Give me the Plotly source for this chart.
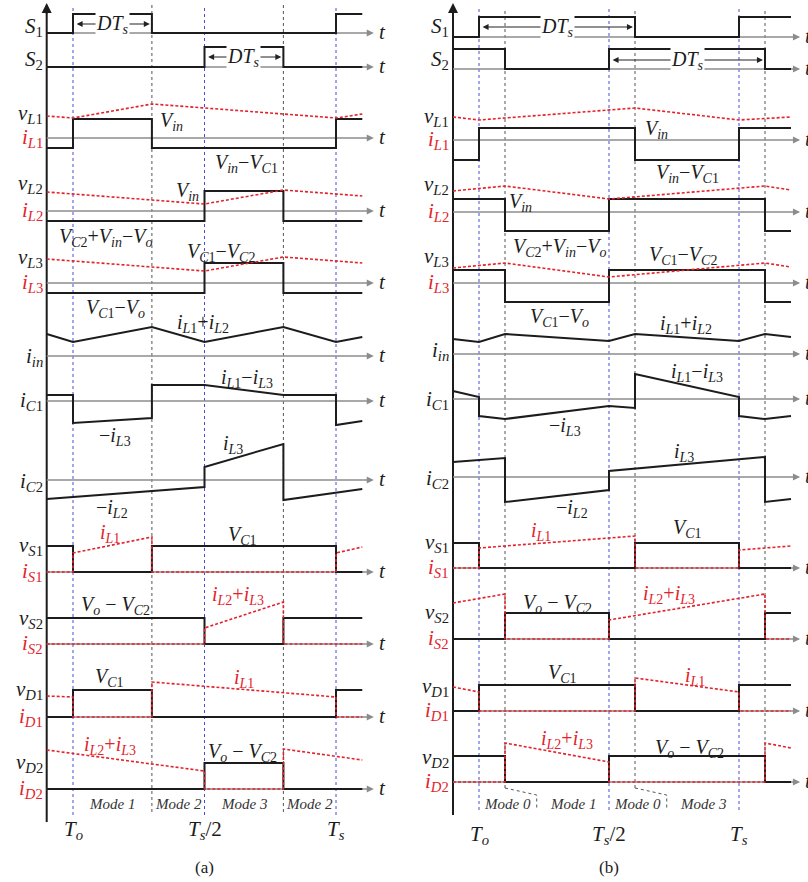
import plotly.graph_objects as go

W, H = 808, 882

# ===================== DATA (time in units of Ts, level in arbitrary units, + = up) =====================
# ---- panel (a) ----
a_S1 = ([-0.1, 0.0, 0.3, 1.0, 1.1], [0, 1.9, 0, 1.9, 1.9])
a_S2 = ([-0.1, 0.5, 0.8, 1.1], [0, 2.0, 0, 0])
a_vL1 = ([-0.1, 0.0, 0.3, 1.0, 1.1], [-1.0, 1.9, -1.0, 1.9, 1.9])
a_iL1 = ([-0.1, 0.0, 0.3, 1.0, 1.1], [2.2, 2.0, 3.4, 2.0, 2.4])
a_vL2 = ([-0.1, 0.5, 0.8, 1.1], [-1.0, 2.0, -1.0, -1.0])
a_iL2 = ([-0.1, 0.5, 0.8, 1.1], [1.9, 0.7, 2.1, 1.5])
a_vL3 = ([-0.1, 0.5, 0.8, 1.1], [-1.0, 2.0, -1.0, -1.0])
a_iL3 = ([-0.1, 0.5, 0.8, 1.1], [2.4, 1.2, 2.6, 2.0])
a_iin = ([-0.1, 0.0, 0.3, 0.5, 0.8, 1.0, 1.1], [2.2, 1.4, 2.9, 1.4, 2.9, 1.4, 1.9])
a_iC1 = ([-0.1, 0.0, 0.0, 0.3, 0.3, 0.5, 0.8, 1.0, 1.0, 1.1],
         [0.6, 0.6, -2.2, -1.7, 1.6, 1.6, 0.6, 0.6, -2.4, -2.0])
a_iC2 = ([-0.1, 0.5, 0.5, 0.8, 0.8, 1.1], [-1.9, -0.7, 1.3, 3.6, -2.0, -0.9])
a_vS1 = ([-0.1, 0.0, 0.3, 1.0, 1.1], [2.6, 0, 2.6, 0, 0])
a_iS1 = ([-0.1, 0.0, 0.0, 0.3, 0.3, 1.0, 1.0, 1.1], [0, 0, 1.9, 3.5, 0, 0, 1.9, 2.5])
a_vS2 = ([-0.1, 0.5, 0.8, 1.1], [2.6, 0, 2.6, 2.6])
a_iS2 = ([-0.1, 0.5, 0.5, 0.8, 0.8, 1.1], [0, 0, 1.6, 4.2, 0, 0])
a_vD1 = ([-0.1, 0.0, 0.3, 1.0, 1.1], [0, 2.7, 0, 2.7, 2.7])
a_iD1 = ([-0.1, 0.0, 0.0, 0.3, 0.3, 1.0, 1.0, 1.1], [2.1, 2.0, 0, 0, 3.5, 2.0, 0, 0])
a_vD2 = ([-0.1, 0.5, 0.8, 1.1], [0, 2.6, 0, 0])
a_iD2 = ([-0.1, 0.5, 0.5, 0.8, 0.8, 1.1], [3.9, 1.8, 0, 0, 4.0, 2.9])

# ---- panel (b) ----
b_S1 = ([-0.1, 0.0, 0.6, 1.0, 1.2], [0, 2.0, 0, 2.0, 2.0])
b_S2 = ([-0.1, 0.1, 0.5, 1.1, 1.2], [2.0, 0, 2.0, 0, 0])
b_vL1 = ([-0.1, 0.0, 0.6, 1.0, 1.2], [-2.0, 1.2, -2.0, 1.2, 1.2])
b_iL1 = ([-0.1, 0.0, 0.6, 1.0, 1.2], [2.3, 2.0, 3.2, 2.0, 2.3])
b_vL2 = ([-0.1, 0.1, 0.5, 1.1, 1.2], [1.3, -1.9, 1.3, -1.9, -1.9])
b_iL2 = ([-0.1, 0.1, 0.5, 1.1, 1.2], [2.1, 2.6, 1.3, 2.6, 2.2])
b_vL3 = ([-0.1, 0.1, 0.5, 1.1, 1.2], [1.3, -1.9, 1.3, -1.9, -1.9])
b_iL3 = ([-0.1, 0.1, 0.5, 1.1, 1.2], [1.5, 2.0, 0.6, 2.0, 1.6])
b_iin = ([-0.1, 0.0, 0.1, 0.5, 0.6, 1.0, 1.1, 1.2], [1.5, 1.2, 2.0, 1.3, 2.0, 1.3, 2.0, 1.7])
b_iC1 = ([-0.1, 0.0, 0.0, 0.1, 0.5, 0.6, 0.6, 1.0, 1.0, 1.1, 1.2],
         [0.8, 0.2, -1.7, -2.0, -0.7, -0.9, 2.5, 0.2, -1.7, -2.0, -1.7])
b_iC2 = ([-0.1, 0.1, 0.1, 0.5, 0.5, 1.1, 1.1, 1.2], [1.5, 1.9, -2.5, -1.3, 0.6, 2.0, -2.5, -2.2])
b_vS1 = ([-0.1, 0.0, 0.6, 1.0, 1.2], [2.5, 0, 2.5, 0, 0])
b_iS1 = ([-0.1, 0.0, 0.0, 0.6, 0.6, 1.0, 1.0, 1.2], [0, 0, 2.0, 3.2, 0, 0, 1.8, 2.2])
b_vS2 = ([-0.1, 0.1, 0.5, 1.1, 1.2], [0, 2.6, 0, 2.6, 2.6])
b_iS2 = ([-0.1, 0.1, 0.1, 0.5, 0.5, 1.1, 1.1, 1.2], [3.6, 4.5, 0, 0, 1.9, 4.5, 0, 0])
b_vD1 = ([-0.1, 0.0, 0.6, 1.0, 1.2], [0, 2.6, 0, 2.6, 2.6])
b_iD1 = ([-0.1, 0.0, 0.0, 0.6, 0.6, 1.0, 1.0, 1.2], [2.4, 1.9, 0, 0, 3.3, 1.9, 0, 0])
b_vD2 = ([-0.1, 0.1, 0.5, 1.1, 1.2], [2.6, 0, 2.6, 0, 0])
b_iD2 = ([-0.1, 0.1, 0.1, 0.5, 0.5, 1.1, 1.1, 1.2], [0, 0, 3.9, 2.0, 0, 0, 3.9, 3.4])

# mode boundaries and tick labels
a_blue_t = [0.0, 0.5, 1.0]
a_gray_t = [0.3, 0.8]
b_blue_t = [0.0, 0.5, 1.0]
b_gray_t = [0.1, 0.6, 1.1]
a_modes = [(0.15, "Mode 1"), (0.4, "Mode 2"), (0.65, "Mode 3"), (0.9, "Mode 2")]
b_modes = [(0.11, "Mode 0"), (0.36, "Mode 1"), (0.61, "Mode 0"), (0.86, "Mode 3")]
time_ticks = [(0.0, "<i>T</i><sub><i>o</i></sub>"), (0.5, "<i>T</i><sub><i>s</i></sub>/2"),
              (1.0, "<i>T</i><sub><i>s</i></sub>")]

# ===================== STYLE / LAYOUT =====================
FONT = "Liberation Serif"
BLACK = "#1c1c1c"
RED = "#e3232b"
GRAY = "#8c8c8c"
BLUE = "#4a4ad8"
DGRAY = "#555555"
SCALE = 10.0  # px per level unit
LAB = 21      # left label font size
TXT = 20      # in-plot label font size

def sym(main, sub):
    return f"<i>{main}</i><sub>{sub}</sub>"

S_1, S_2 = sym("S", "1"), sym("S", "2")
Vin = sym("V", "<i>in</i>")
VC1 = sym("V", "<i>C</i>1")
VC2 = sym("V", "<i>C</i>2")
Vo = sym("V", "<i>o</i>")
iL1 = sym("i", "<i>L</i>1")
iL2 = sym("i", "<i>L</i>2")
iL3 = sym("i", "<i>L</i>3")
M = "−"
DTs = "<i>DT</i><sub><i>s</i></sub>"

# rows: key, baseline px, black wave, red wave, black label, red label, black-label offset
rows_a = [
    ("S1", 33, a_S1, None, S_1, None, 0.6),
    ("S2", 67, a_S2, None, S_2, None, 0.7),
    ("L1", 138, a_vL1, a_iL1, sym("v", "<i>L</i>1"), iL1, 2.4),
    ("L2", 211, a_vL2, a_iL2, sym("v", "<i>L</i>2"), iL2, 2.7),
    ("L3", 283, a_vL3, a_iL3, sym("v", "<i>L</i>3"), iL3, 2.5),
    ("in", 356, a_iin, None, sym("i", "<i>in</i>"), None, -0.1),
    ("C1", 401, a_iC1, None, sym("i", "<i>C</i>1"), None, 0.0),
    ("C2", 480, a_iC2, None, sym("i", "<i>C</i>2"), None, -0.2),
    ("S1v", 572, a_vS1, a_iS1, sym("v", "<i>S</i>1"), sym("i", "<i>S</i>1"), 2.6),
    ("S2v", 644, a_vS2, a_iS2, sym("v", "<i>S</i>2"), sym("i", "<i>S</i>2"), 2.5),
    ("D1", 717, a_vD1, a_iD1, sym("v", "<i>D</i>1"), sym("i", "<i>D</i>1"), 2.7),
    ("D2", 789, a_vD2, a_iD2, sym("v", "<i>D</i>2"), sym("i", "<i>D</i>2"), 2.6),
]
rows_b = [
    ("S1", 37, b_S1, None, S_1, None, 1.0),
    ("S2", 69, b_S2, None, S_2, None, 0.9),
    ("L1", 140, b_vL1, b_iL1, sym("v", "<i>L</i>1"), iL1, 2.3),
    ("L2", 212, b_vL2, b_iL2, sym("v", "<i>L</i>2"), iL2, 2.7),
    ("L3", 283, b_vL3, b_iL3, sym("v", "<i>L</i>3"), iL3, 2.6),
    ("in", 354, b_iin, None, sym("i", "<i>in</i>"), None, 0.3),
    ("C1", 399, b_iC1, None, sym("i", "<i>C</i>1"), None, -0.1),
    ("C2", 477, b_iC2, None, sym("i", "<i>C</i>2"), None, -0.2),
    ("S1v", 568, b_vS1, b_iS1, sym("v", "<i>S</i>1"), sym("i", "<i>S</i>1"), 2.5),
    ("S2v", 639, b_vS2, b_iS2, sym("v", "<i>S</i>2"), sym("i", "<i>S</i>2"), 2.6),
    ("D1", 711, b_vD1, b_iD1, sym("v", "<i>D</i>1"), sym("i", "<i>D</i>1"), 2.4),
    ("D2", 782, b_vD2, b_iD2, sym("v", "<i>D</i>2"), sym("i", "<i>D</i>2"), 2.4),
]
step_keys = {"S1", "S2", "L1", "L2", "L3", "S1v", "S2v", "D1", "D2"}

labels_a = [
    ("L1", 0.323, 1.7, Vin, BLACK, "left"),
    ("L1", 0.66, -2.5, Vin + M + VC1, BLACK, "center"),
    ("L2", 0.434, 2.0, Vin, BLACK, "center"),
    ("L2", 0.125, -2.6, VC2 + "+" + Vin + M + Vo, BLACK, "center"),
    ("L3", 0.563, 3.1, VC1 + M + VC2, BLACK, "center"),
    ("L3", 0.16, -2.5, VC1 + M + Vo, BLACK, "center"),
    ("in", 0.494, 3.3, iL1 + "+" + iL2, BLACK, "center"),
    ("C1", 0.66, 2.3, iL1 + M + iL3, BLACK, "center"),
    ("C1", 0.16, -3.5, M + iL3, BLACK, "center"),
    ("C2", 0.61, 3.6, iL3, BLACK, "center"),
    ("C2", 0.148, -2.8, M + iL2, BLACK, "center"),
    ("S1v", 0.14, 3.9, iL1, RED, "center"),
    ("S1v", 0.646, 3.7, VC1, BLACK, "center"),
    ("S2v", 0.163, 3.9, Vo + " " + M + " " + VC2, BLACK, "center"),
    ("S2v", 0.627, 4.9, iL2 + "+" + iL3, RED, "center"),
    ("D1", 0.14, 4.0, VC1, BLACK, "center"),
    ("D1", 0.65, 3.9, iL1, RED, "center"),
    ("D2", 0.14, 4.4, iL2 + "+" + iL3, RED, "center"),
    ("D2", 0.646, 3.7, Vo + " " + M + " " + VC2, BLACK, "center"),
]
labels_b = [
    ("L1", 0.63, 1.1, Vin, BLACK, "left"),
    ("L1", 0.80, -3.3, Vin + M + VC1, BLACK, "center"),
    ("L2", 0.108, 1.0, Vin, BLACK, "left"),
    ("L2", 0.31, -3.5, VC2 + "+" + Vin + M + Vo, BLACK, "center"),
    ("L3", 0.785, 2.8, VC1 + M + VC2, BLACK, "center"),
    ("L3", 0.308, -3.4, VC1 + M + Vo, BLACK, "center"),
    ("in", 0.796, 3.0, iL1 + "+" + iL2, BLACK, "center"),
    ("C1", 0.838, 2.7, iL1 + M + iL3, BLACK, "center"),
    ("C1", 0.33, -2.7, M + iL3, BLACK, "center"),
    ("C2", 0.79, 2.5, iL3, BLACK, "center"),
    ("C2", 0.358, -3.1, M + iL2, BLACK, "center"),
    ("S1v", 0.24, 3.7, iL1, RED, "center"),
    ("S1v", 0.80, 4.0, VC1, BLACK, "center"),
    ("S2v", 0.30, 3.6, Vo + " " + M + " " + VC2, BLACK, "center"),
    ("S2v", 0.73, 4.5, iL2 + "+" + iL3, RED, "center"),
    ("D1", 0.32, 3.8, VC1, BLACK, "center"),
    ("D1", 0.83, 3.5, iL1, RED, "center"),
    ("D2", 0.34, 4.3, iL2 + "+" + iL3, RED, "center"),
    ("D2", 0.81, 3.4, Vo + " " + M + " " + VC2, BLACK, "center"),
]

panels = [
    dict(name="a", xid="x", origin=73, tspan=263, rows=rows_a, labels=labels_a,
         tip=1.144, axis_top=3, axis_bot=822, dot_top=5, dot_bot=815,
         blue=a_blue_t, gray=a_gray_t, modes=a_modes, mode_v=-1.5, tick_v=-4.1, cap_v=-7.8,
         dts=[("S1", 0.0, 0.3, 0.9), ("S2", 0.5, 0.8, 1.0)]),
    dict(name="b", xid="x2", origin=479, tspan=260, rows=rows_b, labels=labels_b,
         tip=1.235, axis_top=3, axis_bot=815, dot_top=8, dot_bot=810,
         blue=b_blue_t, gray=b_gray_t, modes=b_modes, mode_v=-2.2, tick_v=-5.3, cap_v=-8.5,
         dts=[("S1", 0.0, 0.6, 1.0), ("S2", 0.5, 1.1, 0.9)]),
]

fig = go.Figure()
layout = dict(width=W, height=H, margin=dict(l=0, r=0, t=0, b=0),
              paper_bgcolor="white", plot_bgcolor="rgba(0,0,0,0)", showlegend=False)
annotations, shapes = [], []
black_traces, red_traces, gray_traces = [], [], []

def ytok(n):
    return "yaxis" if n == 1 else f"yaxis{n}"

def yid(n):
    return "y" if n == 1 else f"y{n}"

n = 0
for p in panels:
    xid = p["xid"]
    xkey = "xaxis" if xid == "x" else "xaxis2"
    layout[xkey] = dict(domain=[0, 1], range=[-p["origin"] / p["tspan"], (W - p["origin"]) / p["tspan"]],
                        visible=False, fixedrange=True)
    rowid = {}
    for (key, base, bw, rw, blab, rlab, boff) in p["rows"]:
        n += 1
        rowid[key] = yid(n)
        layout[ytok(n)] = dict(domain=[0, 1], range=[(base - H) / SCALE, base / SCALE],
                               visible=False, fixedrange=True, anchor=xid)
        yy = yid(n)
        # gray time axis
        gray_traces.append(go.Scatter(x=[-0.1, p["tip"] - 0.01], y=[0, 0], xaxis=xid, yaxis=yy, mode="lines",
                                      line=dict(color=GRAY, width=1.3), hoverinfo="skip"))
        annotations.append(dict(x=p["tip"], y=0, xref=xid, yref=yy, ax=p["tip"] - 0.03, ay=0,
                                axref=xid, ayref=yy, showarrow=True, arrowhead=2, arrowsize=1.1,
                                arrowwidth=1.3, arrowcolor=GRAY, text=""))
        annotations.append(dict(x=p["tip"], y=0.15, xref=xid, yref=yy, xanchor="left", xshift=3,
                                text="<i>t</i>", showarrow=False, font=dict(family=FONT, size=LAB, color=BLACK)))
        black_traces.append(go.Scatter(x=bw[0], y=bw[1], xaxis=xid, yaxis=yy, mode="lines",
                                       line=dict(color=BLACK, width=2,
                                                 shape="hv" if key in step_keys else "linear"),
                                       hoverinfo="skip"))
        if rw is not None:
            red_traces.append(go.Scatter(x=rw[0], y=rw[1], xaxis=xid, yaxis=yy, mode="lines",
                                         line=dict(color=RED, width=1.6, dash="3px,2px"), hoverinfo="skip"))
        annotations.append(dict(x=-0.1, y=boff, xref=xid, yref=yy, xanchor="right", xshift=-2,
                                yanchor="middle", text=blab, showarrow=False,
                                font=dict(family=FONT, size=LAB, color=BLACK)))
        if rlab is not None:
            annotations.append(dict(x=-0.1, y=0, xref=xid, yref=yy, xanchor="right", xshift=-2,
                                    yanchor="middle", text=rlab, showarrow=False,
                                    font=dict(family=FONT, size=LAB, color=RED)))
    p["rowid"] = rowid
    top_row, bot_row = rowid["S1"], rowid["D2"]
    base_top = p["rows"][0][1]
    # main vertical axis
    black_traces.append(go.Scatter(x=[-0.1, -0.1], y=[(base_top - p["axis_bot"]) / SCALE, (base_top - p["axis_top"] - 4) / SCALE],
                                   xaxis=xid, yaxis=top_row, mode="lines",
                                   line=dict(color=BLACK, width=2), hoverinfo="skip"))
    annotations.append(dict(x=-0.1, y=(base_top - p["axis_top"]) / SCALE, xref=xid, yref=top_row,
                            ax=0, ay=12, showarrow=True, arrowhead=2, arrowsize=1, arrowwidth=2,
                            arrowcolor=BLACK, text=""))
    # vertical dotted lines
    y_top = 1 - p["dot_top"] / H
    for t in p["blue"]:
        shapes.append(dict(type="line", xref=xid, yref="paper", x0=t, x1=t, y0=1 - p["dot_bot"] / H, y1=y_top,
                           line=dict(color=BLUE, width=1, dash="dot"), layer="below"))
    for t in p["gray"]:
        if p["name"] == "a":
            y0 = 1 - 812 / H
        elif t < 1.0:
            y0 = 1 - 788 / H
        else:
            y0 = 1 - 782 / H
        shapes.append(dict(type="line", xref=xid, yref="paper", x0=t, x1=t, y0=y0, y1=y_top,
                           line=dict(color=DGRAY, width=1, dash="dot"), layer="below"))
        if p["name"] == "b" and t < 1.0:
            shapes.append(dict(type="path", xref=xid, yref=bot_row,
                               path=f"M {t},-0.6 L {t + 0.122},-1.3 L {t + 0.122},-2.8",
                               line=dict(color=DGRAY, width=1, dash="dot"), layer="below"))
    # DTs arrows
    for (key, t0, t1, v) in p["dts"]:
        yy = rowid[key]
        annotations.append(dict(x=t1 - 0.008, y=v, ax=t0 + 0.008, ay=v, xref=xid, yref=yy, axref=xid, ayref=yy,
                                showarrow=True, arrowhead=2, arrowside="end+start", arrowsize=1,
                                arrowwidth=1.2, arrowcolor="#222", text=""))
        annotations.append(dict(x=(t0 + t1) / 2, y=v, xref=xid, yref=yy, text=DTs, showarrow=False,
                                bgcolor="white", borderpad=0, yanchor="middle",
                                font=dict(family=FONT, size=TXT, color=BLACK)))
    # in-plot labels
    for (key, t, v, txt, col, anc) in p["labels"]:
        annotations.append(dict(x=t, y=v, xref=xid, yref=rowid[key], text=txt, showarrow=False,
                                xanchor=anc, yanchor="middle", font=dict(family=FONT, size=TXT, color=col)))
    # modes
    for (t, txt) in p["modes"]:
        annotations.append(dict(x=t, y=p["mode_v"], xref=xid, yref=bot_row, text=f"<i>{txt}</i>",
                                showarrow=False, font=dict(family=FONT, size=15, color="#333")))
    for (t, txt) in time_ticks:
        annotations.append(dict(x=t, y=p["tick_v"], xref=xid, yref=bot_row, text=txt, showarrow=False,
                                font=dict(family=FONT, size=LAB, color=BLACK)))
    annotations.append(dict(x=0.5, y=p["cap_v"], xref=xid, yref=bot_row, text=f"({p['name']})",
                            showarrow=False, font=dict(family=FONT, size=17, color=BLACK)))

for tr in gray_traces + black_traces + red_traces:
    fig.add_trace(tr)

layout["annotations"] = annotations
layout["shapes"] = shapes
fig.update_layout(**layout)

fig.write_html("out.html", config={"displayModeBar": False},
               post_script="document.body.style.margin='0';document.body.style.overflow='hidden';")
